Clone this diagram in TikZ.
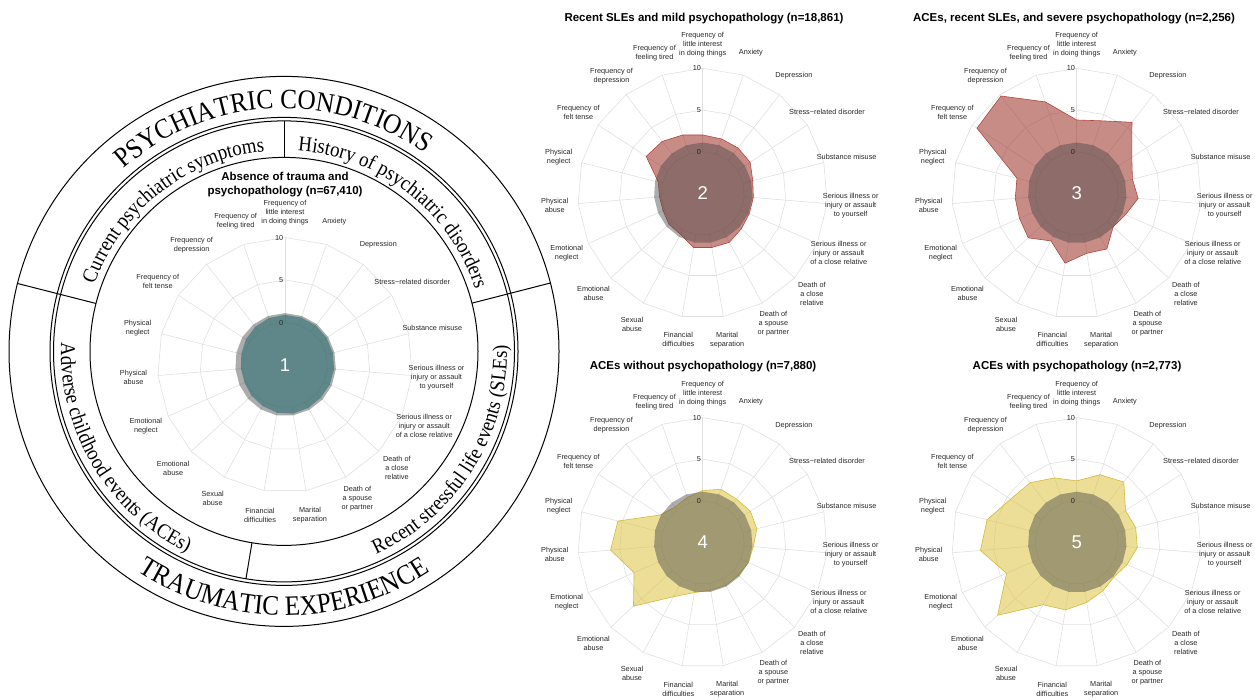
\documentclass[tikz,border=0pt]{standalone}
\usepackage{fontspec}
\setmainfont{Liberation Sans}
\newfontfamily\serifring[FakeStretch=0.9]{Liberation Serif}
\usetikzlibrary{decorations.text}
\definecolor{gridcol}{RGB}{224,224,224}
\definecolor{refgrey}{RGB}{71,71,71}
\definecolor{tealfill}{RGB}{2,135,139}
\definecolor{redfill}{RGB}{155,46,37}
\definecolor{redline}{RGB}{180,70,60}
\definecolor{yelfill}{RGB}{220,195,64}
\definecolor{yelline}{RGB}{215,185,55}
\tikzset{
  gridline/.style={gridcol,line width=0.6},
  ring/.style={black,line width=1},
  axislabel/.style={font=\fontsize{7.3}{9}\selectfont,align=center,text=black!85,inner sep=0},
  ticklabel/.style={font=\fontsize{7.3}{9}\selectfont,anchor=east,inner sep=0,text=black!85},
  radartitle/.style={font=\fontsize{11.5}{14.4}\selectfont\bfseries,align=center,inner sep=0},
  clusternum/.style={font=\fontsize{18.5}{18.5}\selectfont,text=white,inner sep=0},
  refpoly/.style={fill=refgrey,fill opacity=0.45},
  tealpoly/.style={fill=tealfill,fill opacity=0.55},
  redpoly/.style={fill=redfill,fill opacity=0.55,draw=redline,line width=0.6},
  yelpoly/.style={fill=yelfill,fill opacity=0.55,draw=yelline,line width=0.6},
  ringtext/.style={decorate,decoration={text along path,text align=center,text={#1}}}
}
\def\axislabels{{Frequency of\\little interest\\in doing things},Anxiety,Depression,Stress−related disorder,Substance misuse,{Serious illness or\\injury or assault\\to yourself},{Serious illness or\\injury or assault\\of a close relative},{Death of\\a close\\relative},{Death of\\a spouse\\or partner},{Marital\\separation},{Financial\\difficulties},{Sexual\\abuse},{Emotional\\abuse},{Emotional\\neglect},{Physical\\abuse},{Physical\\neglect},{Frequency of\\felt tense},{Frequency of\\depression},{Frequency of\\feeling tired}}
% grid and axis labels of one radar
\newcommand\radargrid[4]{% name, centre, unit, label radius
  \begin{scope}[shift={#2}]
    \foreach \g in {0,5,10}
      \draw[gridline] (90:{(\g+5)*#3}) \foreach \i in {1,...,18}{ -- ({90-\i*360/19}:{(\g+5)*#3})} -- cycle;
    \foreach \i in {0,...,18}
      \draw[gridline] ({90-\i*360/19}:{5*#3}) -- ({90-\i*360/19}:{15*#3});
    \foreach \txt [count=\i from 0] in \axislabels
      \node[axislabel] (#1-lab\i) at ({90-\i*360/19}:#4) {\txt};
  \end{scope}
}
% one filled profile, 19 values
\newcommand\radarpoly[4]{% centre, unit, style, values
  \edef\vlist{#4}
  \begin{scope}[shift={#1}]
    \foreach \v [count=\i from 0] in \vlist
      \coordinate (v\i) at ({90-\i*360/19}:{(\v+5)*#2});
    \path[#3] (v0) \foreach \i in {1,...,18}{ -- (v\i)} -- cycle;
  \end{scope}
}
\newcommand\radarticks[4]{% name, centre, unit, number
  \begin{scope}[shift={#2}]
    \foreach \g in {0,5,10}
      \node[ticklabel] (#1-tick\g) at (-1.5,{(\g+5)*#3}) {\g};
    \node[clusternum] (#1-num) at (0,0) {#4};
  \end{scope}
}

\begin{document}
\begin{tikzpicture}[x=1pt,y=1pt]
  \useasboundingbox (0,0) rectangle (1255,699);
  \def\k{8.33}
  \def\ka{8.5}
  \def\refvals{1.1,1.1,1.1,1.05,1.0,1.0,1.0,1.0,1.0,1.0,1.0,0.95,0.9,0.85,0.85,0.9,1.0,1.05,1.1}
  \coordinate (O) at (284,347.6);
  \coordinate (C1) at (285,334);
  \coordinate (C2) at (702.7,505.7);
  \coordinate (C3) at (1076.7,505.7);
  \coordinate (C4) at (702.7,156.5);
  \coordinate (C5) at (1076.7,156.5);

  % RINGS
  \begin{scope}[shift={(O)}]
    \draw[ring] (0,0) circle[radius=275];
    \draw[ring] (0,0) circle[radius=234];
    \draw[ring] (0,0) circle[radius=230.5];
    \draw[ring] (0,0) circle[radius=194];
    \draw[ring] (165.7:194) -- (165.7:275);
    \draw[ring] (14.4:194) -- (14.4:275);
    \draw[ring] (90:194) -- (90:230.5);
    \draw[ring] (260.5:194) -- (260.5:230.5);
    \path[ringtext={|\serifring\fontsize{28}{28}\selectfont|PSYCHIATRIC CONDITIONS}]
      (172:243) arc[start angle=172,end angle=14,radius=243];
    \path[ringtext={|\serifring\fontsize{28}{28}\selectfont|TRAUMATIC EXPERIENCE}]
      (190:264) arc[start angle=190,end angle=350,radius=264];
    \path[ringtext={|\serifring\fontsize{21}{21}\selectfont|Current psychiatric symptoms}]
      (173:201) arc[start angle=173,end angle=83,radius=201];
    \path[ringtext={|\serifring\fontsize{21}{21}\selectfont|History of psychiatric disorders}]
      (97:201) arc[start angle=97,end angle=7,radius=201];
    \path[ringtext={|\serifring\fontsize{21}{21}\selectfont|Adverse childhood events (ACEs)}]
      (166:223) arc[start angle=166,end angle=256,radius=223];
    \path[ringtext={|\serifring\fontsize{21}{21}\selectfont|Recent stressful life events (SLEs)}]
      (-78:223) arc[start angle=-78,end angle=14,radius=223];
  \end{scope}

  % GRIDS
  \radargrid{r1}{(C1)}{\ka}{152}
  \radargrid{r2}{(C2)}{\k}{148.5}
  \radargrid{r3}{(C3)}{\k}{148.5}
  \radargrid{r4}{(C4)}{\k}{148.5}
  \radargrid{r5}{(C5)}{\k}{148.5}

  % PROFILES
  \radarpoly{(C1)}{\ka}{tealpoly}{0.9,0.9,0.9,0.85,0.8,0.8,0.75,0.7,0.75,0.8,0.7,0.5,0.35,0.2,0.2,0.3,0.5,0.7,0.85}
  \radarpoly{(C1)}{\ka}{refpoly}{\refvals}
  \radarpoly{(C2)}{\k}{redpoly}{2.0,1.9,1.9,1.8,1.2,1.1,1.1,1.3,1.7,1.6,1.6,0.6,0.5,0.2,0.2,0.5,3.1,2.9,2.4}
  \radarpoly{(C2)}{\k}{refpoly}{\refvals}
  \radarpoly{(C3)}{\k}{redpoly}{3.8,4.2,5.8,2.9,1.9,2.4,1.4,0.95,2.6,2.3,3.5,1.5,2.9,2.5,2.4,2.4,9.3,9.8,6.6}
  \radarpoly{(C3)}{\k}{refpoly}{\refvals}
  \radarpoly{(C4)}{\k}{yelpoly}{1.25,1.75,1.6,1.85,1.7,1.1,1.0,0.8,0.85,0.8,1.1,2.4,6.3,4.0,6.1,5.5,1.05,0.4,0.7}
  \radarpoly{(C4)}{\k}{refpoly}{\refvals}
  \radarpoly{(C5)}{\k}{yelpoly}{2.4,3.6,4.2,2.0,2.3,2.3,1.6,1.1,1.6,2.3,3.2,3.5,7.9,4.2,6.6,6.1,4.5,4.1,3.2}
  \radarpoly{(C5)}{\k}{refpoly}{\refvals}

  % TICKS
  \radarticks{r1}{(C1)}{\ka}{1}
  \radarticks{r2}{(C2)}{\k}{2}
  \radarticks{r3}{(C3)}{\k}{3}
  \radarticks{r4}{(C4)}{\k}{4}
  \radarticks{r5}{(C5)}{\k}{5}

  % TITLES
  \node[radartitle] (t1) at (285,514.5) {Absence of trauma and\\psychopathology (n=67,410)};
  \node[radartitle] (t2) at (704,680) {Recent SLEs and mild psychopathology (n=18,861)};
  \node[radartitle] (t3) at (1074,680) {ACEs, recent SLEs, and severe psychopathology (n=2,256)};
  \node[radartitle] (t4) at (703,332.5) {ACEs without psychopathology (n=7,880)};
  \node[radartitle] (t5) at (1077,332.5) {ACEs with psychopathology (n=2,773)};
\end{tikzpicture}
\end{document}
